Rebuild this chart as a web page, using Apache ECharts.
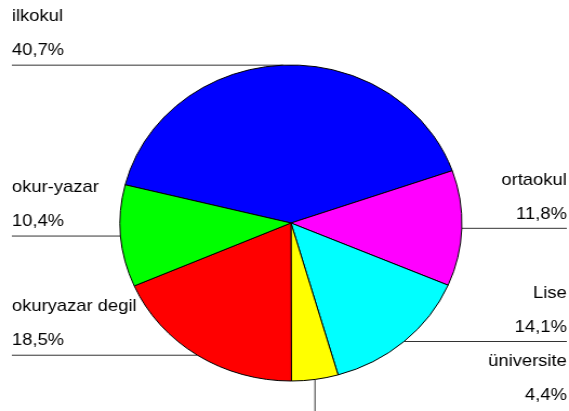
<!DOCTYPE html>
<html>
<head>
<meta charset="utf-8">
<script src="https://cdn.jsdelivr.net/npm/echarts@6/dist/echarts.min.js"></script>
<style>
  html, body { margin: 0; padding: 0; background: #fff; overflow: hidden; }
  #chart { width: 526px; height: 411px; transform: scaleX(1.0817); transform-origin: 0 0; }
</style>
</head>
<body>
<div id="chart"></div>
<script>
// Data
var categories = ['ilkokul', 'ortaokul', 'Lise', 'üniversite', 'okuryazar degil', 'okur-yazar'];
var values = [40.7, 11.8, 14.1, 4.4, 18.5, 10.4];
var colors = ['#0000ff', '#ff00ff', '#00ffff', '#ffff00', '#ff0000', '#00ff00'];
var labelSides = ['left', 'right', 'right', 'bottom', 'left', 'left'];

var LEFT_X = 11;
var RIGHT_X = 524;
var CENTER = [269, 223];
var RADIUS = 158;
var START_ANGLE = 166;

var chart = echarts.init(document.getElementById('chart'), null, { renderer: 'canvas' });

var seriesData = categories.map(function (name, i) {
  return { name: name, value: values[i], itemStyle: { color: colors[i] } };
});

// mid-angle edge point of a slice (fallback when the callback gives no line points)
function edgePoint(i) {
  var total = values.reduce(function (a, b) { return a + b; }, 0);
  var before = 0;
  for (var k = 0; k < i; k++) before += values[k];
  var mid = START_ANGLE - (before + values[i] / 2) / total * 360;
  var rad = mid * Math.PI / 180;
  return [CENTER[0] + RADIUS * Math.cos(rad), CENTER[1] - RADIUS * Math.sin(rad)];
}

chart.setOption({
  animation: false,
  series: [{
    type: 'pie',
    center: CENTER,
    radius: RADIUS,
    startAngle: START_ANGLE,
    clockwise: true,
    avoidLabelOverlap: false,
    data: seriesData,
    itemStyle: { borderColor: '#000', borderWidth: 1 },
    label: {
      show: true,
      position: 'outside',
      color: '#000',
      fontFamily: '"Liberation Sans", Arial, sans-serif',
      fontSize: 17,
      lineHeight: 34,
      formatter: function (p) {
        return p.name + '\n' + p.value.toFixed(1).replace('.', ',') + '%';
      }
    },
    labelLine: {
      show: true,
      length: 10,
      length2: 10,
      lineStyle: { color: '#333', width: 1 }
    },
    emphasis: { disabled: true },
    labelLayout: function (params) {
      var i = params.dataIndex;
      var p = edgePoint(i);
      var ex = p[0], ey = p[1];
      var side = labelSides[i];
      if (side === 'left') {
        return {
          x: LEFT_X, y: ey + 2.5, align: 'left', verticalAlign: 'bottom',
          labelLinePoints: [[ex, ey], [LEFT_X, ey], [LEFT_X, ey]]
        };
      } else if (side === 'right') {
        return {
          x: RIGHT_X, y: ey + 2.5, align: 'right', verticalAlign: 'bottom',
          labelLinePoints: [[ex, ey], [RIGHT_X, ey], [RIGHT_X, ey]]
        };
      } else {
        return {
          x: RIGHT_X, y: ey + 33, align: 'right', verticalAlign: 'bottom',
          labelLinePoints: [[ex, ey], [ex, 411], [ex, 411]]
        };
      }
    }
  }]
});
</script>
</body>
</html>
